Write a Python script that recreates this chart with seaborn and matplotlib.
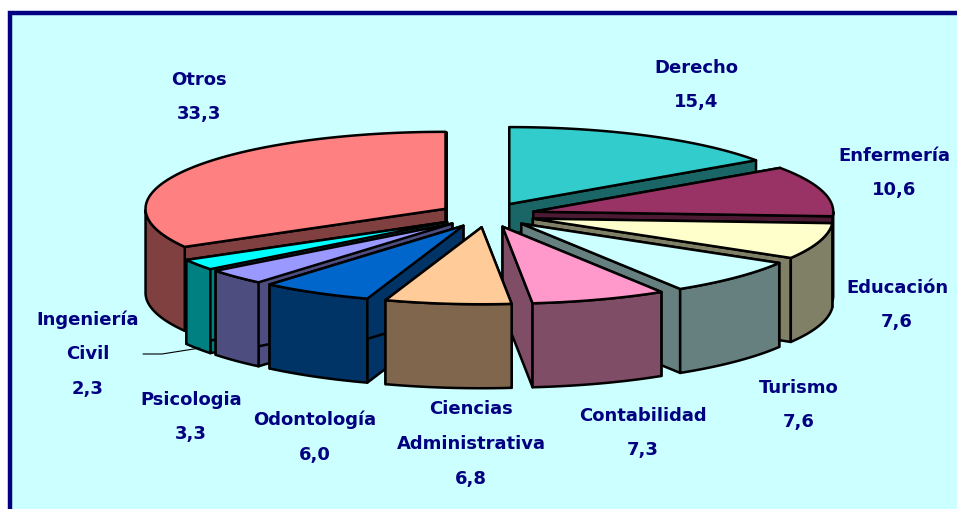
import numpy as np
import matplotlib
matplotlib.use("Agg")
import matplotlib.pyplot as plt
import seaborn as sns

# clockwise from 12 o'clock, same order as the source pie
categories = ["Derecho", "Enfermería", "Educación", "Turismo", "Contabilidad",
              "Ciencias\nAdministrativa", "Odontología", "Psicologia",
              "Ingeniería\nCivil", "Otros"]
values = [15.4, 10.6, 7.6, 7.6, 7.3, 6.8, 6.0, 3.3, 2.3, 33.3]
colors = ["#33CCCC", "#993366", "#FFFFCC", "#CCFFFF", "#FF99CC",
          "#FFCC99", "#0066CC", "#9999FF", "#00FFFF", "#FF8080"]

# centre of each label block, pixels
label_x = [696, 894, 897, 799, 643, 471, 315, 191, 88, 199]
label_y = [85, 173, 305, 405, 433, 444, 437, 417, 354, 97]

cx, cy = 487, 216
rx, ry = 300, 77
height = 84
explode = 0.16
navy = "#000080"

sns.set_theme(style="white")
palette = sns.color_palette(colors)

fig = plt.figure(figsize=(9.57, 5.1), dpi=100, facecolor="white")
ax = fig.add_axes([0, 0, 1, 1])
ax.set_xlim(0, 957)
ax.set_ylim(510, 0)
ax.axis("off")

ax.add_patch(plt.Rectangle((9.5, 13.5), 970, 520, facecolor="#CCFFFF",
                           edgecolor=navy, linewidth=3.2, zorder=0))

# slice angles from the values
shares = np.array(values) / np.sum(values) * 360
ends = 90 - np.cumsum(shares)
starts = ends + shares
mids = (starts + ends) / 2

# back slices first so the front ones cover them
order = np.argsort(-np.sin(np.radians(mids)))

z = 1
for i in order:
    top = np.array(palette[i])
    side = top * 0.5
    ox = cx + rx * explode * np.cos(np.radians(mids[i]))
    oy = cy - ry * explode * np.sin(np.radians(mids[i]))

    t = np.radians(np.linspace(starts[i], ends[i], 80))
    arc_x = ox + rx * np.cos(t)
    arc_y = oy - ry * np.sin(t)

    # the first slice has a shallow inner corner in the source
    apex_drop = 28 if i == 0 else height

    # cut faces
    for k in [0, -1]:
        ax.fill([ox, arc_x[k], arc_x[k], ox],
                [oy, arc_y[k], arc_y[k] + height, oy + apex_drop],
                facecolor=side, edgecolor="black", linewidth=1.8,
                joinstyle="round", zorder=z)
        z += 1

    # outer wall, only the part facing us
    front = np.sin(t) <= 0
    if front.sum() > 1:
        wx = arc_x[front]
        wy = arc_y[front]
        ax.fill(np.r_[wx, wx[::-1]], np.r_[wy, wy[::-1] + height],
                facecolor=side, edgecolor="black", linewidth=1.8,
                joinstyle="round", zorder=z)
        z += 1

    ax.fill(np.r_[ox, arc_x], np.r_[oy, arc_y], facecolor=top,
            edgecolor="black", linewidth=1.8, joinstyle="round", zorder=z)
    z += 1

# leader line for the small slice
ax.plot([143, 162, 200], [355, 355, 349], color="black", linewidth=0.8, zorder=z)

for name, val, lx, ly in zip(categories, values, label_x, label_y):
    txt = name + "\n" + f"{val:.1f}".replace(".", ",")
    ax.text(lx, ly, txt, ha="center", va="center", color=navy, fontsize=13,
            fontweight="bold", family="DejaVu Sans", linespacing=2.19,
            zorder=z + 1)

fig.savefig("out.png", dpi=100)
